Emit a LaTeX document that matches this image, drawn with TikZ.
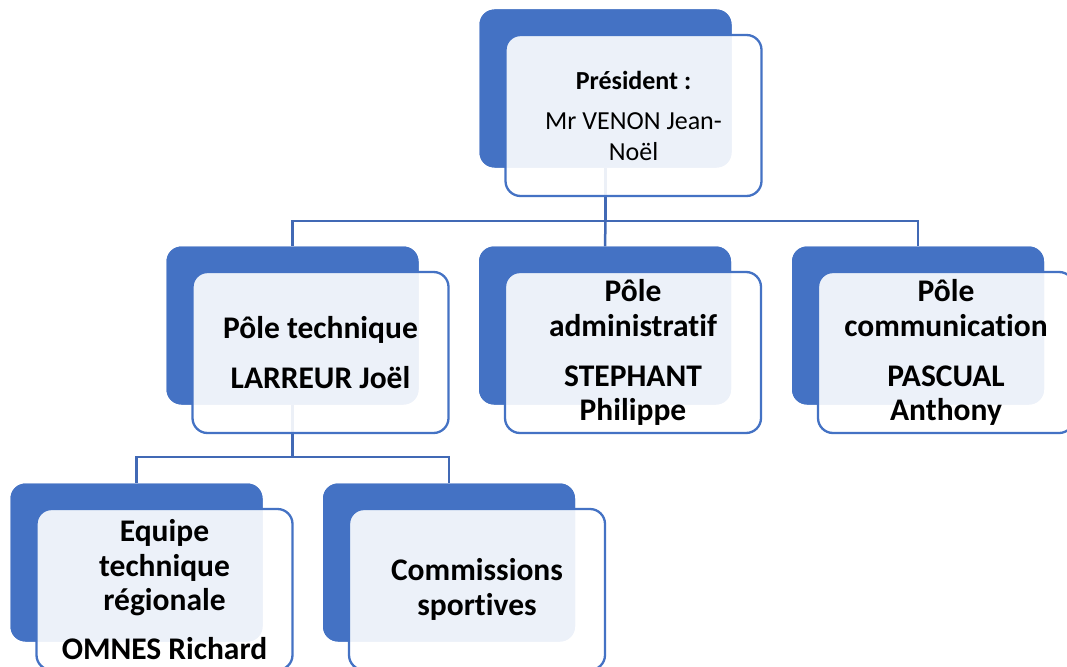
\documentclass[tikz,border=0pt]{standalone}
\usepackage{fontspec}
\setmainfont[Ligatures=NoCommon]{Carlito}
\definecolor{accent}{HTML}{4472C4}
\definecolor{connblue}{HTML}{4169B5}
\begin{document}
\begin{tikzpicture}[x=1pt,y=-1pt,
  backbox/.style={rectangle, rounded corners=15pt, fill=accent, draw=none,
    minimum width=252pt, minimum height=158pt, inner sep=0pt},
  frontbox/.style={rectangle, rounded corners=15pt, draw=accent, line width=2.3pt,
    fill=white, fill opacity=0.9, text opacity=1,
    minimum width=256pt, minimum height=161pt, inner sep=2pt, align=center,
    font=\fontsize{31.5}{34.5}\selectfont\bfseries},
  presfont/.style={font=\fontsize{26}{31}\selectfont},
  conn/.style={draw=connblue, line width=2.5pt}]
\clip (0,0) rectangle (1067,666);
\fill[white] (0,0) rectangle (1067,666);
% back boxes positions (needed for connectors)
\path (605.5,88.5) node[backbox] (Pb) {};
\path (292.5,325.5) node[backbox] (Tb) {};
\path (605,325.5) node[backbox] (Ab) {};
\path (918,325.5) node[backbox] (Cb) {};
\path (136.5,562.5) node[backbox] (Eb) {};
\path (449,562.5) node[backbox] (Sb) {};
% connectors
\coordinate (j1) at (Pb.south |- 0,221);
\coordinate (j2) at (Tb.south |- 0,457);
\draw[conn] (Pb.south) -- (j1);
\draw[conn] (j1) -| (Tb.north);
\draw[conn] (j1) -- (Ab.north);
\draw[conn] (j1) -| (Cb.north);
\draw[conn] (Tb.south) -- (j2);
\draw[conn] (j2) -| (Eb.north);
\draw[conn] (j2) -| (Sb.north);
% boxes
\path (605.5,88.5) node[backbox] (Pb2) {};
\node[frontbox, presfont] (Pf) at ([shift={(28,27)}]Pb2.center)
  {\textbf{Président :}\\[9pt]Mr VENON Jean-\\Noël};
\path (292.5,325.5) node[backbox] (Tb2) {};
\node[frontbox] (Tf) at ([shift={(28,27)}]Tb2.center)
  {Pôle technique\\[15.5pt]LARREUR Joël};
\path (605,325.5) node[backbox] (Ab2) {};
\node[frontbox] (Af) at ([shift={(28,27)}]Ab2.center)
  {Pôle\\administratif\\[15.5pt]STEPHANT\\Philippe};
\path (918,325.5) node[backbox] (Cb2) {};
\node[frontbox] (Cf) at ([shift={(28,27)}]Cb2.center)
  {Pôle\\communication\\[15.5pt]PASCUAL\\Anthony};
\path (136.5,562.5) node[backbox] (Eb2) {};
\node[frontbox] (Ef) at ([shift={(28,27)}]Eb2.center)
  {Equipe\\technique\\régionale\\[14pt]OMNES Richard};
\path (449,562.5) node[backbox] (Sb2) {};
\node[frontbox] (Sf) at ([shift={(28,27)}]Sb2.center)
  {Commissions\\sportives};
\end{tikzpicture}
\end{document}
